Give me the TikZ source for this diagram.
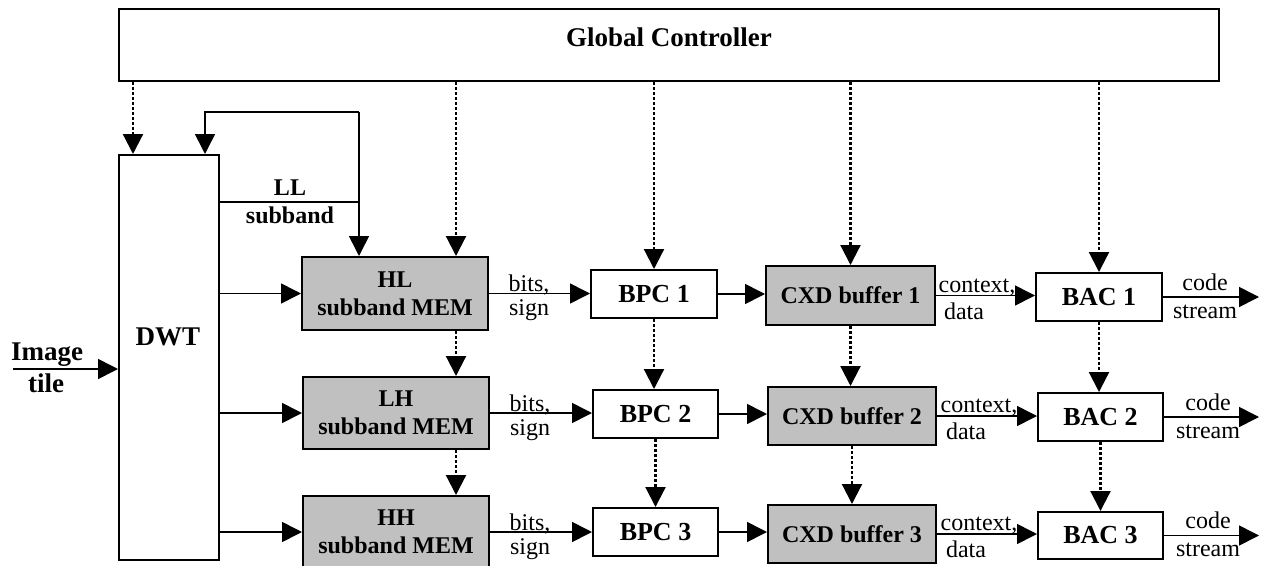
\documentclass[tikz,border=0pt]{standalone}
\usepackage{fontspec}
\setmainfont{Liberation Serif}
\usetikzlibrary{arrows.meta}
\definecolor{memgray}{RGB}{192,192,192}
\begin{document}
\begin{tikzpicture}[x=1pt,y=-1pt,
  box/.style={draw, line width=2pt, inner sep=0pt, align=center,
    font=\bfseries\fontsize{26}{28}\selectfont},
  membox/.style={box, fill=memgray, font=\bfseries\fontsize{24}{28}\selectfont},
  lbl/.style={inner sep=0pt, anchor=base, font=\fontsize{24}{26}\selectfont},
  blbl/.style={lbl, font=\bfseries\fontsize{24}{26}\selectfont},
  tlbl/.style={lbl, font=\bfseries\fontsize{27}{29}\selectfont},
  plain/.style={line width=1.6pt},
  flow/.style={line width=1.6pt, -{Triangle[length=20pt,width=20pt]}},
  ctrl/.style={line width=2.2pt, dash pattern=on 2.5pt off 2.5pt,
    -{Triangle[length=20pt,width=20pt]}}
]
\useasboundingbox (0,0) rectangle (1261,565);

% controller and transform
\node[box, minimum width=1100pt, minimum height=72pt] (gc) at (669,45) {};
\node[tlbl] (gctext) at (669,46) {Global Controller};
\node[box, minimum width=100pt, minimum height=405pt] (dwt) at (169,357.5) {};
\node[tlbl] (dwttext) at (168,345) {DWT};

% subband memories
\node[membox, minimum width=186pt, minimum height=73pt] (hl) at (395,293.5) {HL\\subband MEM};
\node[membox, minimum width=186pt, minimum height=72pt] (lh) at (396,413) {LH\\subband MEM};
\node[membox, minimum width=186pt, minimum height=72pt] (hh) at (396,532) {HH\\subband MEM};

% bit-plane coders
\node[box, minimum width=126pt, minimum height=48pt] (bpc1) at (654,294) {BPC 1};
\node[box, minimum width=125pt, minimum height=48pt] (bpc2) at (655.5,414) {BPC 2};
\node[box, minimum width=125pt, minimum height=48pt] (bpc3) at (655.5,532) {BPC 3};

% context/decision buffers
\node[membox, minimum width=169pt, minimum height=59pt] (cxd1) at (850.5,295.5) {CXD buffer 1};
\node[membox, minimum width=168pt, minimum height=58pt] (cxd2) at (852,416) {CXD buffer 2};
\node[membox, minimum width=168pt, minimum height=58pt] (cxd3) at (852,534) {CXD buffer 3};

% arithmetic coders
\node[box, minimum width=126pt, minimum height=48pt] (bac1) at (1099,297) {BAC 1};
\node[box, minimum width=125pt, minimum height=48pt] (bac2) at (1100.5,417) {BAC 2};
\node[box, minimum width=125pt, minimum height=47pt] (bac3) at (1100.5,535.5) {BAC 3};

% helper coordinates
\coordinate (dwtx) at (133,0);
\coordinate (memx) at (456,0);
\coordinate (fbx) at (205,0);
\coordinate (lltop) at (359,112);
\coordinate (lljoin) at (359,202);
\coordinate (imgin) at (13,369);
\coordinate (outx) at (1259,0);

% control lines
\draw[ctrl] (gc.south -| dwtx) -- (dwt.north -| dwtx);
\draw[ctrl] (gc.south -| memx) -- (hl.north -| memx);
\draw[ctrl] (hl.south -| memx) -- (lh.north -| memx);
\draw[ctrl] (lh.south -| memx) -- (hh.north -| memx);
\draw[ctrl] (gc.south -| bpc1.north) -- (bpc1.north);
\draw[ctrl] (bpc1.south) -- (bpc2.north -| bpc1.south);
\draw[ctrl] (bpc2.south) -- (bpc3.north -| bpc2.south);
\draw[ctrl] (gc.south -| cxd1.north) -- (cxd1.north);
\draw[ctrl] (cxd1.south) -- (cxd2.north -| cxd1.south);
\draw[ctrl] (cxd2.south) -- (cxd3.north -| cxd2.south);
\draw[ctrl] (gc.south -| bac1.north) -- (bac1.north);
\draw[ctrl] (bac1.south) -- (bac2.north -| bac1.south);
\draw[ctrl] (bac2.south) -- (bac3.north -| bac2.south);

% input and LL feedback
\draw[flow] (imgin) -- (dwt.west |- imgin);
\node[tlbl] (imgtext) at (47,360) {Image};
\node[tlbl] (tiletext) at (46,392) {tile};
\draw[plain] (dwt.east |- lljoin) -- (lljoin);
\draw[flow] (lltop) -- (hl.north -| lltop);
\draw[flow] (lltop) -| (dwt.north -| fbx);
\node[blbl] (lltext) at (290,195) {LL};
\node[blbl] (llsub) at (290,223) {subband};

% DWT outputs
\draw[flow] (dwt.east |- hl.west) -- (hl.west);
\draw[flow] (dwt.east |- lh.west) -- (lh.west);
\draw[flow] (dwt.east |- hh.west) -- (hh.west);

% row 1
\draw[flow] (hl.east) -- (hl.east -| bpc1.west);
\draw[flow] (bpc1.east) -- (bpc1.east -| cxd1.west);
\draw[flow] (cxd1.east) -- (cxd1.east -| bac1.west);
\draw[flow] (bac1.east) -- (bac1.east -| outx);
\node[lbl] (bits1) at (529,291) {bits,};
\node[lbl] (sign1) at (529,315) {sign};
\node[lbl] (ctx1) at (977,292) {context,};
\node[lbl] (data1) at (964,319) {data};
\node[lbl] (code1) at (1205,290) {code};
\node[lbl] (strm1) at (1205,318) {stream};

% row 2
\draw[flow] (lh.east) -- (lh.east -| bpc2.west);
\draw[flow] (bpc2.east) -- (bpc2.east -| cxd2.west);
\draw[flow] (cxd2.east) -- (cxd2.east -| bac2.west);
\draw[flow] (bac2.east) -- (bac2.east -| outx);
\node[lbl] (bits2) at (530,411) {bits,};
\node[lbl] (sign2) at (530,435) {sign};
\node[lbl] (ctx2) at (979,412) {context,};
\node[lbl] (data2) at (966,439) {data};
\node[lbl] (code2) at (1208,410) {code};
\node[lbl] (strm2) at (1208,438) {stream};

% row 3
\draw[flow] (hh.east) -- (hh.east -| bpc3.west);
\draw[flow] (bpc3.east) -- (bpc3.east -| cxd3.west);
\draw[flow] (cxd3.east) -- (cxd3.east -| bac3.west);
\draw[flow] (bac3.east) -- (bac3.east -| outx);
\node[lbl] (bits3) at (530,530) {bits,};
\node[lbl] (sign3) at (530,554) {sign};
\node[lbl] (ctx3) at (979,530) {context,};
\node[lbl] (data3) at (966,557) {data};
\node[lbl] (code3) at (1208,528) {code};
\node[lbl] (strm3) at (1208,556) {stream};
\end{tikzpicture}
\end{document}
